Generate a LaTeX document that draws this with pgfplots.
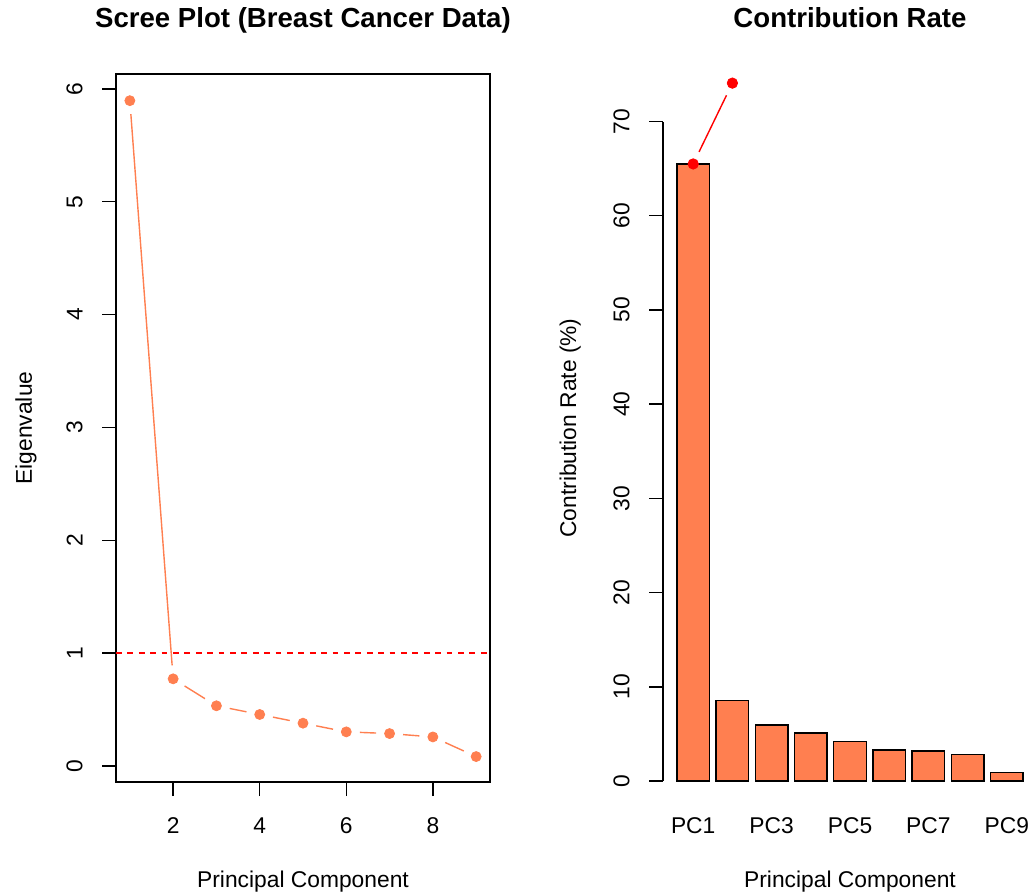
\documentclass[border=0pt]{standalone}
\usepackage{pgfplots}
\pgfplotsset{compat=1.18}
\usepackage{fontspec}
\setmainfont{Liberation Sans}
\definecolor{coral}{RGB}{255,127,80}
\newcommand{\lbl}{\fontsize{11.4}{13.7}\selectfont}
\newcommand{\ttl}{\bfseries\fontsize{13.8}{16.5}\selectfont}
\begin{document}
\begin{tikzpicture}
\path[use as bounding box] (0,0) rectangle (516pt,447.5pt);
\pgfplotsset{
 rstyle/.style={scale only axis, width=187pt, height=354pt, anchor=south west,
  tick align=outside, major tick length=7pt,
  every tick/.style={black, line width=0.7pt},
  tick label style={font=\lbl, inner sep=0pt},
  /pgf/number format/assume math mode=true,
  xticklabel style={anchor=north, yshift=-10.5pt},
  yticklabel style={rotate=90, anchor=south}, yticklabel shift=9.5pt,
  xtick pos=bottom, ytick pos=left,
 }
}
% ---------- left: scree plot ----------
\begin{axis}[rstyle, at={(58pt,56.5pt)},
  xmin=0.68, xmax=9.32, ymin=-0.1424, ymax=6.1324,
  xtick={2,4,6,8}, ytick={0,1,2,3,4,5,6},
  axis line style={line width=0.7pt}]
\addplot[red, line width=0.7pt, dash pattern=on 2.85pt off 2.85pt] coordinates {(0.68,1) (9.32,1)};
\pgfplotsset{seg/.style={coral, line width=0.7pt, shorten <=6.75pt, shorten >=6.75pt}}
\addplot[seg] coordinates {(1,5.896) (2,0.772)};
\addplot[seg] coordinates {(2,0.772) (3,0.533)};
\addplot[seg] coordinates {(3,0.533) (4,0.456)};
\addplot[seg] coordinates {(4,0.456) (5,0.379)};
\addplot[seg] coordinates {(5,0.379) (6,0.302)};
\addplot[seg] coordinates {(6,0.302) (7,0.287)};
\addplot[seg] coordinates {(7,0.287) (8,0.257)};
\addplot[seg] coordinates {(8,0.257) (9,0.083)};
\addplot[only marks, mark=*, mark size=2.5pt, mark options={draw=coral, fill=coral}] coordinates {
 (1,5.896) (2,0.772) (3,0.533) (4,0.456) (5,0.379) (6,0.302) (7,0.287) (8,0.257) (9,0.083)};
\end{axis}
% ---------- right: contribution rate ----------
\begin{axis}[rstyle, at={(331.5pt,56.5pt)},
  xmin=-0.224, xmax=11.224, ymin=-0.106, ymax=75.05,
  axis line style={draw=none}, clip=false,
  xtick={0.7,3.1,5.5,7.9,10.3}, xticklabels={PC1,PC3,PC5,PC7,PC9},
  xtick style={draw=none}, ytick={0,10,20,30,40,50,60,70}]
\draw[line width=0.7pt] (axis cs:-0.224,0) -- (axis cs:-0.224,70);
\addplot[ybar, bar width=1, fill=coral, draw=black, line width=0.7pt] coordinates {
 (0.7,65.5) (1.9,8.55) (3.1,5.93) (4.3,5.1) (5.5,4.18) (6.7,3.3) (7.9,3.2) (9.1,2.83) (10.3,0.93)};
\addplot[red, line width=0.7pt, shorten <=6.75pt, shorten >=6.75pt] coordinates {(0.7,65.5) (1.9,74.08)};
\addplot[only marks, mark=*, mark size=2.6pt, mark options={draw=red, fill=red}] coordinates {(0.7,65.5) (1.9,74.08)};
\end{axis}
% ---------- titles and labels ----------
\node[anchor=base, font=\ttl, inner sep=0] at (151.5pt,433.5pt) {Scree Plot (Breast Cancer Data)};
\node[anchor=base, font=\ttl, inner sep=0] at (425pt,433.5pt) {Contribution Rate};
\node[anchor=base, font=\lbl, inner sep=0] at (151.5pt,4pt) {Principal Component};
\node[anchor=base, font=\lbl, inner sep=0] at (425pt,4pt) {Principal Component};
\node[anchor=base, font=\lbl, inner sep=0, rotate=90] at (16pt,233.5pt) {Eigenvalue};
\node[anchor=base, font=\lbl, inner sep=0, rotate=90] at (288pt,233.5pt) {Contribution Rate (\%)};
\end{tikzpicture}
\end{document}
